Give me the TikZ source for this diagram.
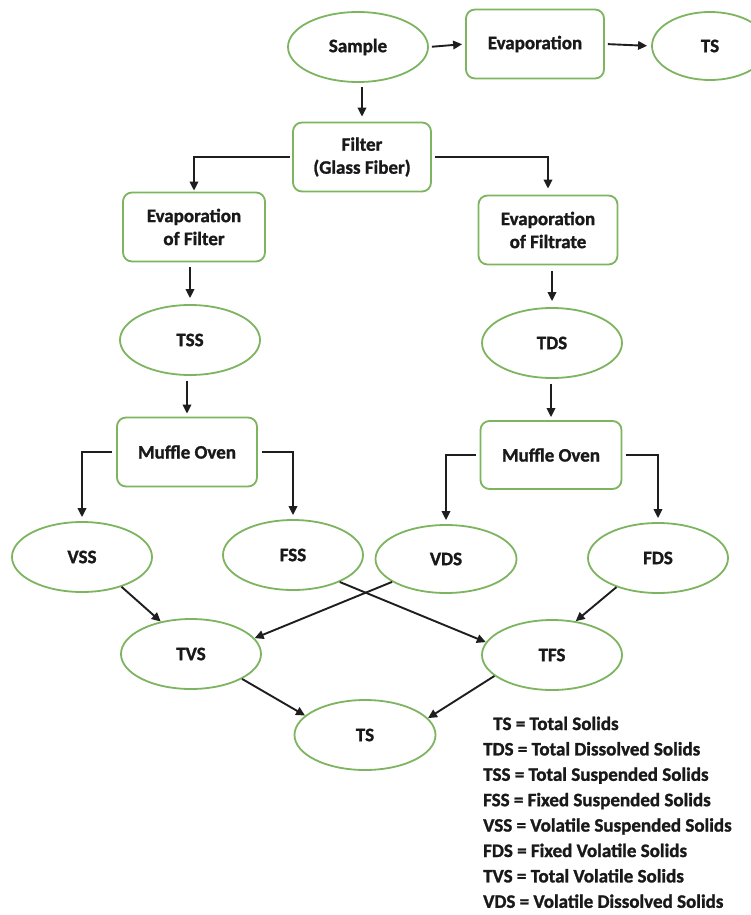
\documentclass[tikz,border=0pt]{standalone}
\usepackage{fontspec}
\setmainfont{Carlito}
\newfontfamily\heavyfont{Carlito Bold}[FakeBold=1.3]
\usetikzlibrary{arrows.meta,shapes.geometric}
\definecolor{boxgreen}{RGB}{125,180,95}
\definecolor{linedark}{RGB}{30,30,30}
\tikzset{
  base/.style={draw=boxgreen, line width=1.8pt, fill=white, inner sep=0pt, align=center,
    font=\fontsize{19}{23}\selectfont\heavyfont, text=black!90},
  oval/.style={base, ellipse, minimum width=140pt, minimum height=70pt},
  rbox/.style={base, rectangle, rounded corners=9pt, minimum width=139pt, minimum height=69pt},
  conn/.style={draw=linedark, line width=1.9pt, -{Triangle[length=9pt,width=8.5pt]}},
  legend/.style={anchor=base west, inner sep=0pt, font=\fontsize{19}{23}\selectfont\heavyfont, text=black!90}
}
\begin{document}
\begin{tikzpicture}[x=1pt,y=-1pt]
\useasboundingbox (0,0) rectangle (751,915);
\fill[white] (0,0) rectangle (751,915);

% top row
\node[oval] (sample) at (358,47) {Sample};
\node[rbox, minimum width=138pt] (evap) at (535,44) {Evaporation};
\node[oval, minimum width=116pt, minimum height=68pt] (tstop) at (710,46) {TS};

\node[rbox, minimum width=138pt] (filter) at (362,157) {Filter\\(Glass Fiber)};
\node[rbox, minimum width=142pt] (evf) at (194,227) {Evaporation\\of Filter};
\node[rbox, minimum width=139pt] (evt) at (548,230) {Evaporation\\of Filtrate};

\node[oval] (tss) at (190,340) {TSS};
\node[oval] (tds) at (552,343) {TDS};

\node[rbox, minimum width=140pt] (mo1) at (187,452) {Muffle Oven};
\node[rbox, minimum width=141pt, minimum height=68pt] (mo2) at (551,455) {Muffle Oven};

\node[oval] (vss) at (82,557) {VSS};
\node[oval] (fss) at (293,555) {FSS};
\node[oval, minimum width=141pt, minimum height=68pt] (vds) at (446,559) {VDS};
\node[oval] (fds) at (658,558) {FDS};

\node[oval] (tvs) at (191,654) {TVS};
\node[oval] (tfs) at (552,655) {TFS};
\node[oval, minimum width=141pt] (ts) at (365,735) {TS};

% connectors
\draw[conn, shorten <=3pt, shorten >=3pt] (sample.east) -- (evap.west);
\draw[conn, shorten <=3pt, shorten >=4pt] (evap.east) -- (tstop.west);
\draw[conn, shorten <=4pt, shorten >=5pt] (sample.south -| filter.north) -- (filter.north);

\coordinate (fl) at (evf.north |- filter.west);
\coordinate (fr) at (evt.north |- filter.east);
\draw[conn, shorten <=2pt, shorten >=1pt] (filter.west) -- (fl) -- (evf.north);
\draw[conn, shorten <=3pt, shorten >=6pt] (filter.east) -- (fr) -- (evt.north);

\draw[conn, shorten <=5pt, shorten >=6pt] (evf.south -| tss.north) -- (tss.north);
\draw[conn, shorten <=6pt, shorten >=6pt] (evt.south -| tds.north) -- (tds.north);
\draw[conn, shorten <=5pt, shorten >=3pt] (tss.south -| mo1.north) -- (mo1.north);
\draw[conn, shorten <=5pt, shorten >=3pt] (tds.south -| mo2.north) -- (mo2.north);

\coordinate (m1l) at (vss.north |- mo1.west);
\coordinate (m1r) at (fss.north |- mo1.east);
\coordinate (m2l) at (vds.north |- mo2.west);
\coordinate (m2r) at (fds.north |- mo2.east);
\draw[conn, shorten <=4pt, shorten >=4pt] (mo1.west) -- (m1l) -- (vss.north);
\draw[conn, shorten <=4pt, shorten >=4pt] (mo1.east) -- (m1r) -- (fss.north);
\draw[conn, shorten <=4pt, shorten >=4pt] (mo2.west) -- (m2l) -- (vds.north);
\draw[conn, shorten <=4pt, shorten >=4pt] (mo2.east) -- (m2r) -- (fds.north);

\draw[conn] (vss.-37) -- (tvs.133);
\draw[conn] (vds.-157) -- (tvs.14);
\draw[conn] (fss.-30) -- (tfs.169);
\draw[conn] (fds.-145) -- (tfs.55);
\draw[conn] (tvs.-26) -- (ts.162);
\draw[conn] (tfs.-160) -- (ts.15);

% legend
\node[legend] (l1) at (493,730) {TS = Total Solids};
\node[legend] (l2) at (483,755.4) {TDS = Total Dissolved Solids};
\node[legend] (l3) at (483,780.8) {TSS = Total Suspended Solids};
\node[legend] (l4) at (483,806.2) {FSS = Fixed Suspended Solids};
\node[legend] (l5) at (483,831.6) {VSS = Volatile Suspended Solids};
\node[legend] (l6) at (483,857.0) {FDS = Fixed Volatile Solids};
\node[legend] (l7) at (483,882.4) {TVS = Total Volatile Solids};
\node[legend] (l8) at (483,907.8) {VDS = Volatile Dissolved Solids};
\end{tikzpicture}
\end{document}
